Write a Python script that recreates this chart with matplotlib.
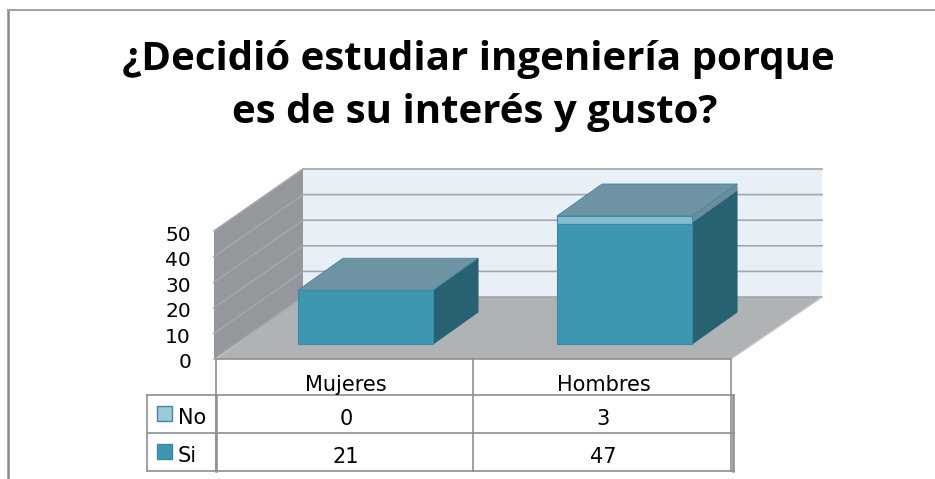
"""Bar chart with fake 3D look and a data table, drawn on a pixel-sized axes."""
import matplotlib
matplotlib.use("Agg")
import matplotlib.pyplot as plt
from matplotlib.patches import Polygon, Rectangle

W, H = 935, 479

title_lines = ["¿Decidió estudiar ingeniería porque", "es de su interés y gusto?"]
categories = ["Mujeres", "Hombres"]
series_names = ["No", "Si"]
si_values = [21, 47]
no_values = [0, 3]
y_ticks = [0, 10, 20, 30, 40, 50]

# colours
C_FRONT, C_SIDE, C_TOP = "#3f96b1", "#286272", "#6e93a3"
C_NO, C_NO_SIDE = "#86bccf", "#6a8d99"
C_EDGE = "#3a8aa5"
C_WALL, C_BACK, C_FLOOR = "#94979b", "#e9eff6", "#afb3b6"
C_GRID, C_LINE = "#a3a6aa", "#8f8f8f"

# layout in pixels
X0, X1 = 216, 731       # front of the floor
Y0 = 359                # front of the floor
PX_PER_UNIT = 2.56
DX, DY = 87, -62        # depth of the whole box
BAR_DX, BAR_DY = 45, -32
BAR_W, BAR_LIFT = 135, 15
BAR_LEFT = [298, 557]
T_LEFT, T_MID = 147, 473
T_ROWS = [395, 433, 471]
FONT = "DejaVu Sans"

fig = plt.figure(figsize=(W / 100, H / 100), dpi=100)
ax = fig.add_axes([0, 0, 1, 1])
ax.set_xlim(0, W); ax.set_ylim(H, 0); ax.axis("off")


def poly(pts, fc, ec="none", lw=0, z=1):
    ax.add_patch(Polygon(pts, closed=True, fc=fc, ec=ec, lw=lw, zorder=z))


def box(x, base, val, front, side, top=None):
    # one stacked segment: front face, side face, top face
    base_px = Y0 - BAR_LIFT - base * PX_PER_UNIT
    top_px = Y0 - BAR_LIFT - (base + val) * PX_PER_UNIT
    x2 = x + BAR_W
    poly([(x2, base_px), (x2 + BAR_DX, base_px + BAR_DY),
          (x2 + BAR_DX, top_px + BAR_DY), (x2, top_px)], side, side, 0.8, 4)
    poly([(x, base_px), (x2, base_px), (x2, top_px), (x, top_px)], front, C_EDGE, 0.8, 5)
    if top is not None:
        poly([(x, top_px), (x2, top_px), (x2 + BAR_DX, top_px + BAR_DY),
              (x + BAR_DX, top_px + BAR_DY)], top, C_EDGE, 0.6, 5)


# chart frame: only left and top edges show in the crop
ax.plot([8, 8], [H, 10], color="#8a8a8a", lw=1.8, zorder=0)
ax.plot([8, W], [10, 10], color="#a0a0a0", lw=1.4, zorder=0)

# walls and floor
top_h = max(y_ticks) * PX_PER_UNIT
BACK_R = X1 + DX + 4
poly([(X0 + DX, Y0 + DY), (BACK_R, Y0 + DY),
      (BACK_R, Y0 + DY - top_h), (X0 + DX, Y0 + DY - top_h)], C_BACK)
poly([(X0 - 2, Y0), (X0 + DX, Y0 + DY), (X0 + DX, Y0 + DY - top_h), (X0 - 2, Y0 - top_h)], C_WALL)
poly([(X0, Y0), (X1, Y0), (BACK_R, Y0 + DY), (X0 + DX, Y0 + DY)], C_FLOOR)
for t in y_ticks:
    yy = Y0 - t * PX_PER_UNIT
    ax.plot([X0 - 2, X0 + DX, BACK_R], [yy, yy + DY, yy + DY], color=C_GRID, lw=1.2, zorder=2)
    ax.text(191, yy + 2, str(t), ha="right", va="center_baseline", fontsize=14.5,
            family=FONT, color="black")
ax.plot([X0, X1], [Y0, Y0], color=C_LINE, lw=1.2, zorder=3)
ax.plot([X1, BACK_R], [Y0, Y0 + DY], color="#c4c6c8", lw=1, zorder=3)

# bars
for x, si, no in zip(BAR_LEFT, si_values, no_values):
    if no > 0:
        box(x, si, no, C_NO, C_NO_SIDE, C_TOP)
        box(x, 0, si, C_FRONT, C_SIDE)
    else:
        box(x, 0, si, C_FRONT, C_SIDE, C_TOP)

# data table
col_x = [X0, T_MID, X1]
for x in col_x:
    ax.plot([x, x], [Y0, T_ROWS[-1]], color=C_LINE, lw=1.2, zorder=3)
ax.plot([X0, X0], [T_ROWS[0], T_ROWS[-1]], color=C_LINE, lw=1.8, zorder=3)
ax.plot([X1 + 2, X1 + 2], [T_ROWS[0], T_ROWS[-1]], color=C_LINE, lw=1.8, zorder=3)
ax.plot([T_LEFT, T_LEFT], [T_ROWS[0], T_ROWS[-1]], color=C_LINE, lw=1.2, zorder=3)
for yy in T_ROWS:
    ax.plot([T_LEFT, X1 + 3], [yy, yy], color=C_LINE, lw=1.2, zorder=3)

txt = dict(ha="center", va="center_baseline", fontsize=15, family=FONT, color="black")
for i, cat in enumerate(categories):
    cx = (col_x[i] + col_x[i + 1]) / 2 + 1.5
    ax.text(cx, 383, cat, **txt)
    ax.text(cx, (T_ROWS[0] + T_ROWS[1]) / 2 + 3, str(no_values[i]), **txt)
    ax.text(cx, (T_ROWS[1] + T_ROWS[2]) / 2 + 3, str(si_values[i]), **txt)

# legend keys inside the table
for name, yy, col in zip(series_names, T_ROWS, ["#9cc8d8", C_FRONT]):
    ax.add_patch(Rectangle((157, yy + 11), 15, 15, fc=col, ec=C_EDGE, lw=1, zorder=4))
    ax.text(178, yy + 21, name, ha="left", va="center_baseline", fontsize=15,
            family=FONT, color="black")

for line, cx, base in zip(title_lines, [478.5, 474.5], [70, 123]):
    ax.text(cx, base, line, ha="center", va="baseline", fontsize=29, fontweight="bold",
            family="Open Sans", color="black")

fig.savefig("out.png", dpi=100)
